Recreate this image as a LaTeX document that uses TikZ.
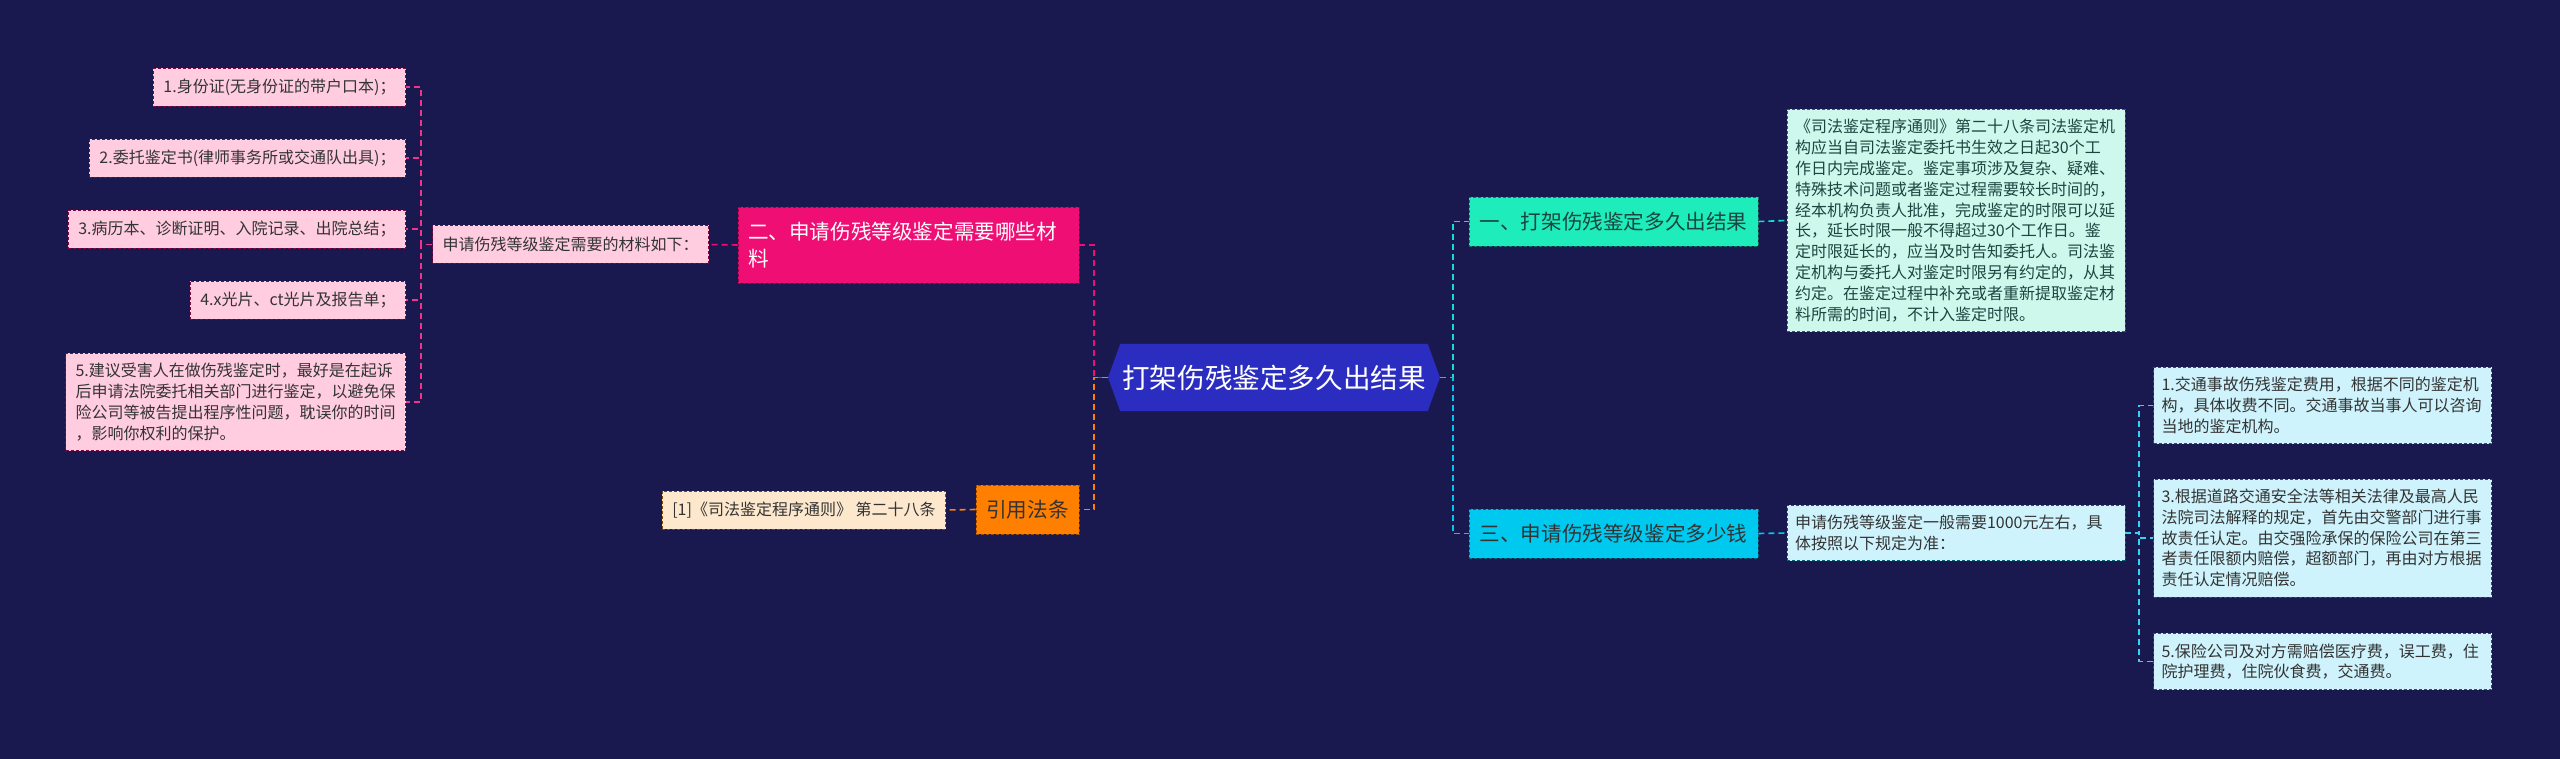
\documentclass[tikz,border=0pt]{standalone}
\usepackage{fontspec}
\setmainfont{Noto Sans CJK SC}
\usetikzlibrary{shapes.symbols}
\definecolor{bgnavy}{HTML}{191950}
\definecolor{rootblue}{HTML}{2A2DC0}
\definecolor{magentabr}{HTML}{EF0F74}
\definecolor{pinkleaf}{HTML}{FFCCE0}
\definecolor{orangebr}{HTML}{FF7F00}
\definecolor{beigeleaf}{HTML}{FDE8CD}
\definecolor{tealbr}{HTML}{1EEDBB}
\definecolor{mintleaf}{HTML}{CFF8EC}
\definecolor{cyanbr}{HTML}{00C9F0}
\definecolor{cyanleaf}{HTML}{CEF3FC}
\definecolor{inkdark}{HTML}{333333}
\definecolor{inkteal}{HTML}{1B4540}
\tikzset{
    box/.style={draw, dash pattern=on 1.5pt off 1pt, line width=0.4pt,
      inner xsep=5pt, inner ysep=5pt, text=inkdark},
    leaf/.style={box, font=\fontsize{8}{10.4}\selectfont, minimum height=19pt},
    pinkbox/.style={leaf, fill=pinkleaf, draw=magentabr!55!black},
    beigebox/.style={leaf, fill=beigeleaf, draw=orangebr!55!black},
    widebox/.style={leaf, text width=161pt, inner xsep=4pt, align=left},
    mintbox/.style={widebox, fill=mintleaf, draw=tealbr!50!black, text=inkteal},
    cyanbox/.style={widebox, fill=cyanleaf, draw=cyanbr!50!black},
    branch/.style={box, font=\fontsize{10.3}{13.3}\selectfont, minimum height=24.5pt},
    rootnode/.style={signal, signal to=west and east, signal pointer angle=140,
      fill=rootblue, text=white, font=\fontsize{13.8}{16}\selectfont,
      inner xsep=1pt, minimum height=33.5pt},
    link/.style={line width=0.8pt, dash pattern=on 3pt off 2pt}
}
\begin{document}
\begin{tikzpicture}[x=0.5pt, y=-0.5pt]
  \fill [bgnavy] (0,0) rectangle (2560,759);
  \useasboundingbox (0,0) rectangle (2560,759);

  \node [rootnode] (root) at (1274,377.5) {打架伤残鉴定多久出结果};

  \node [branch, fill=magentabr, draw=magentabr!60!black, text=white,
    text width=160.5pt, align=left, minimum height=38pt] (two) at (908.5,245)
    {二、申请伤残等级鉴定需要哪些材\\料};
  \node [pinkbox, anchor=east] (mat) at (709,244.5) {申请伤残等级鉴定需要的材料如下：};
  \node [pinkbox, anchor=east] (l1) at (406,87) {1.身份证(无身份证的带户口本)；};
  \node [pinkbox, anchor=east] (l2) at (406,158) {2.委托鉴定书(律师事务所或交通队出具)；};
  \node [pinkbox, anchor=east] (l3) at (406,229) {3.病历本、诊断证明、入院记录、出院总结；};
  \node [pinkbox, anchor=east] (l4) at (406,300) {4.x光片、ct光片及报告单；};
  \node [pinkbox, anchor=east, align=left] (l5) at (406,402)
    {5.建议受害人在做伤残鉴定时，最好是在起诉\\后申请法院委托相关部门进行鉴定，以避免保\\险公司等被告提出程序性问题，耽误你的时间\\，影响你权利的保护。};

  \node [branch, fill=orangebr, draw=orangebr!60!black, minimum width=51.5pt] (cite)
    at (1027.5,509.5) {引用法条};
  \node [beigebox, anchor=east] (law) at (946,510) {[1]《司法鉴定程序通则》 第二十八条};

  \node [branch, fill=tealbr, draw=tealbr!50!black, text=inkteal, minimum width=144.5pt] (one)
    at (1613.5,221.5) {一、打架伤残鉴定多久出结果};
  \node [mintbox] (onetxt) at (1956,220.5)
    {《司法鉴定程序通则》第二十八条司法鉴定机\\构应当自司法鉴定委托书生效之日起30个工\\作日内完成鉴定。鉴定事项涉及复杂、疑难、\\特殊技术问题或者鉴定过程需要较长时间的，\\经本机构负责人批准，完成鉴定的时限可以延\\长，延长时限一般不得超过30个工作日。鉴\\定时限延长的，应当及时告知委托人。司法鉴\\定机构与委托人对鉴定时限另有约定的，从其\\约定。在鉴定过程中补充或者重新提取鉴定材\\料所需的时间，不计入鉴定时限。};

  \node [branch, fill=cyanbr, draw=cyanbr!50!black, minimum width=144.5pt] (three)
    at (1613.5,533.5) {三、申请伤残等级鉴定多少钱};
  \node [cyanbox] (threetxt) at (1956,533)
    {申请伤残等级鉴定一般需要1000元左右，具\\体按照以下规定为准：};
  \node [cyanbox] (ra) at (2322.5,405.5)
    {1.交通事故伤残鉴定费用，根据不同的鉴定机\\构，具体收费不同。交通事故当事人可以咨询\\当地的鉴定机构。};
  \node [cyanbox] (rb) at (2322.5,538)
    {3.根据道路交通安全法等相关法律及最高人民\\法院司法解释的规定，首先由交警部门进行事\\故责任认定。由交强险承保的保险公司在第三\\者责任限额内赔偿，超额部门，再由对方根据\\责任认定情况赔偿。};
  \node [cyanbox] (rc) at (2322.5,661.5)
    {5.保险公司及对方需赔偿医疗费，误工费，住\\院护理费，住院伙食费，交通费。};

  \coordinate (lbus) at (421,0);
  \coordinate (lj) at (1094,0);
  \coordinate (rj) at (1453,0);
  \coordinate (rbus) at (2139,0);

  \foreach \n in {l1,l2,l3,l4,l5}
    \draw [link, magentabr!85!white] (mat.west) -- (mat.west -| lbus) |- (\n.east);
  \draw [link, magentabr] (two.west) -- (mat.east);
  \draw [link, magentabr] (two.east) -- (two.east -| lj) |- (root.west);
  \draw [link, orangebr] (root.west) -- (root.west -| lj) |- (cite.east);
  \draw [link, orangebr] (cite.west) -- (law.east);

  \draw [link, tealbr!60!cyanbr] (root.east) -- (root.east -| rj) |- (one.west);
  \draw [link, cyanbr] (root.east) -- (root.east -| rj) |- (three.west);
  \draw [link, tealbr!60!cyanbr] (one.east) -- (onetxt.west);
  \draw [link, cyanbr] (three.east) -- (threetxt.west);
  \foreach \n in {ra,rb,rc}
    \draw [link, cyanbr!80!white] (threetxt.east) -- (threetxt.east -| rbus) |- (\n.west);
\end{tikzpicture}
\end{document}
